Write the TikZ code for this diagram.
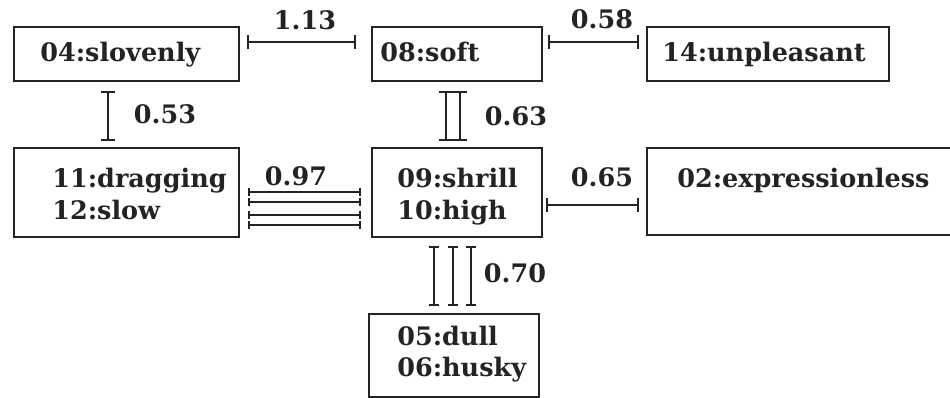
\documentclass[tikz,border=0pt]{standalone}
\usepackage{fontspec}
\setmainfont{DejaVu Serif}
\usetikzlibrary{arrows.meta,calc,fit}
\definecolor{ink}{RGB}{35,35,35}
\tikzset{
  x=0.02cm, y=-0.02cm,
  box/.style={draw=ink, line width=1.6pt, inner sep=0pt, fit={#1}},
  word/.style={anchor=base west, inner sep=0pt, text=ink,
               font=\fontsize{14.5}{18}\selectfont\bfseries},
  num/.style={anchor=center, inner sep=0pt, text=ink,
              font=\fontsize{14.5}{18}\selectfont\bfseries},
  link/.style={draw=ink, line width=1pt, {Bar[width=8pt]}-{Bar[width=8pt]}},
  linksmall/.style={draw=ink, line width=1pt, {Bar[width=6pt]}-{Bar[width=6pt]}},
  linktiny/.style={draw=ink, line width=1pt, {Bar[width=5pt]}-{Bar[width=5pt]}},
}
\begin{document}
\begin{tikzpicture}
\useasboundingbox (0,0) rectangle (950,398);
\clip (0,0) rectangle (950,398);
\fill[white] (0,0) rectangle (950,398);

% boxes
\node[box={(14,27) (239,81)}]   (slov) {};
\node[box={(372,27) (542,81)}]  (soft) {};
\node[box={(647,27) (889,81)}]  (unpl) {};
\node[box={(14,148) (239,237)}] (drag) {};
\node[box={(372,148) (542,237)}] (shrl) {};
\node[box={(647,148) (960,235)}] (expr) {};
\node[box={(369,314) (539,397)}] (dull) {};

% box texts
\node[word] (tslov) at (40,62)  {04:slovenly};
\node[word] (tsoft) at (380,62) {08:soft};
\node[word] (tunpl) at (662,62) {14:unpleasant};
\node[word] (tdrag) at (52,188) {11:dragging};
\node[word] (tslow) at (52,220) {12:slow};
\node[word] (tshrl) at (397,188) {09:shrill};
\node[word] (thigh) at (397,220) {10:high};
\node[word] (texpr) at (677,188) {02:expressionless};
\node[word] (tdull) at (397,346) {05:dull};
\node[word] (thsky) at (397,377) {06:husky};

% horizontal links
\draw[link] ($(slov.east)+(7,-12)$) -- ($(soft.west)+(-15,-12)$);
\draw[link] ($(soft.east)+(5,-12)$) -- ($(unpl.west)+(-7,-12)$);
\draw[link] ($(shrl.east)+(3,12.5)$) -- ($(expr.west)+(-7,13.5)$);
\foreach \dy in {-0.5,9.5,22.5,32.5}
  \draw[linktiny] ($(drag.east)+(8,\dy)$) -- ($(shrl.west)+(-10,\dy)$);

% vertical links
\draw[link] ($(slov.south)+(-18.5,9)$) -- ($(drag.north)+(-18.5,-6)$);
\draw[link] ($(soft.south)+(-11,9)$) -- ($(shrl.north)+(-11,-6)$);
\draw[link] ($(soft.south)+(3,9)$) -- ($(shrl.north)+(3,-6)$);
\draw[linksmall] ($(shrl.south)+(-23,8)$) -- ($(dull.north)+(-20,-7)$);
\draw[linksmall] ($(shrl.south)+(-4,8)$) -- ($(dull.north)+(-1,-7)$);
\draw[linksmall] ($(shrl.south)+(14,8)$) -- ($(dull.north)+(17,-7)$);

% weights
\node[num] (w113) at (305,20)  {1.13};
\node[num] (w058) at (602,19)  {0.58};
\node[num] (w053) at (165,114) {0.53};
\node[num] (w063) at (516,116) {0.63};
\node[num] (w097) at (296,176) {0.97};
\node[num] (w065) at (602,177) {0.65};
\node[num] (w070) at (515,273) {0.70};
\end{tikzpicture}
\end{document}
